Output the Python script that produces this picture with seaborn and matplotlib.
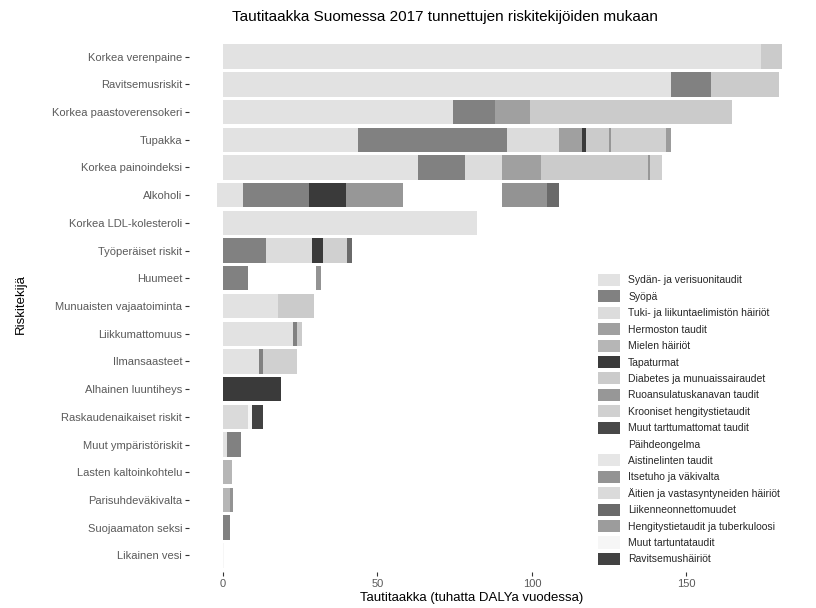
import numpy as np
import pandas as pd
import seaborn as sns
import matplotlib.pyplot as plt
from matplotlib.patches import Patch

# Riskitekijät ylhäältä alas
risks = [
    "Korkea verenpaine", "Ravitsemusriskit", "Korkea paastoverensokeri", "Tupakka",
    "Korkea painoindeksi", "Alkoholi", "Korkea LDL-kolesteroli", "Työperäiset riskit",
    "Huumeet", "Munuaisten vajaatoiminta", "Liikkumattomuus", "Ilmansaasteet",
    "Alhainen luuntiheys", "Raskaudenaikaiset riskit", "Muut ympäristöriskit",
    "Lasten kaltoinkohtelu", "Parisuhdeväkivalta", "Suojaamaton seksi", "Likainen vesi",
]

causes = [
    "Sydän- ja verisuonitaudit", "Syöpä", "Tuki- ja liikuntaelimistön häiriöt",
    "Hermoston taudit", "Mielen häiriöt", "Tapaturmat", "Diabetes ja munuaissairaudet",
    "Ruoansulatuskanavan taudit", "Krooniset hengitystietaudit", "Muut tarttumattomat taudit",
    "Päihdeongelma", "Aistinelinten taudit", "Itsetuho ja väkivalta",
    "Äitien ja vastasyntyneiden häiriöt", "Liikenneonnettomuudet",
    "Hengitystietaudit ja tuberkuloosi", "Muut tartuntataudit", "Ravitsemushäiriöt",
]

grays = [
    "#e2e2e2", "#818181", "#dcdcdc", "#a0a0a0", "#b6b6b6", "#3a3a3a", "#cbcbcb",
    "#979797", "#d0d0d0", "#484848", "#ffffff", "#e6e6e6", "#939393", "#dadada",
    "#6a6a6a", "#9c9c9c", "#f6f6f6", "#424242",
]

# tuhatta DALYa, riskitekijöiden järjestyksessä
#             verp   ravi  paas  tupa  pain  alko  ldl   tyo   huum  munu  liik  ilma  luu   rask  ymp   last  pari  seks  vesi
sydan      = [174.0, 145.0, 74.3, 43.6, 63.1, 6.6, 82.1, 0,    0,    17.9, 22.5, 11.7, 0,    0,    1.4,  0,    0,    0,    0]
syopa      = [0,     12.8, 13.9, 48.4, 15.2, 21.3, 0,    13.9, 8.0,  0,    1.3,  1.3,  0,    0,    4.4,  0,    0,    2.3,  0]
tuki       = [0,     0,    0,    16.8, 12.0, 0,    0,    14.8, 0,    0,    0,    0,    0,    0,    0,    0,    0,    0,    0]
hermosto   = [0,     0,    11.3, 7.4,  12.6, 0,    0,    0,    0,    0,    0,    0,    0,    0,    0,    0,    0,    0,    0]
mieli      = [0,     0,    0,    0,    0,    0,    0,    0,    0,    0,    0,    0,    0,    0,    0,    2.8,  2.2,  0,    0]
tapaturma  = [0,     0,    0,    1.3,  0,    11.8, 0,    3.8,  0,    0,    0,    0,    18.8, 0,    0,    0,    0,    0,    0]
diabetes   = [6.8,   22.3, 65.2, 7.4,  34.6, 0,    0,    0,    0,    11.7, 1.9,  0,    0,    0,    0,    0,    0,    0,    0]
ruoansul   = [0,     0,    0,    0.7,  0.7,  18.6, 0,    0,    0,    0,    0,    0,    0,    0,    0,    0,    0,    0,    0]
krooniset  = [0,     0,    0,    17.9, 3.8,  0,    0,    7.8,  0,    0,    0,    10.8, 0,    0,    0,    0,    0,    0,    0]
muut_tarttumattomat = [0] * 19
paihde     = [0,     0,    0,    0,    0,    32.1, 0,    0,    22.0, 0,    0,    0,    0,    0,    0,    0,    0,    0,    0]
aistin     = [0] * 19
itsetuho   = [0,     0,    0,    0,    0,    14.4, 0,    0,    1.6,  0,    0,    0,    0,    0,    0,    0,    1.1,  0,    0]
aitien     = [0,     0,    0,    0,    0,    0,    0,    0,    0,    0,    0,    0,    0,    8.2,  0,    0,    0,    0,    0]
liikenne   = [0,     0,    0,    0,    0,    4.0,  0,    1.4,  0,    0,    0,    0,    0,    0,    0,    0,    0,    0,    0]
hengitys   = [0,     0,    0,    1.6,  0,    0,    0,    0,    0,    0,    0,    0,    0,    0,    0,    0,    0,    0,    0]
muut_tartunta = [0,  0,    0,    0,    0,    0,    0,    0,    0,    0,    0,    0,    0,    1.1,  0,    0,    0,    0,    0.3]
ravitsemush = [0,    0,    0,    0,    0,    0,    0,    0,    0,    0,    0,    0,    0,    3.6,  0,    0,    0,    0,    0]

# alkoholin suojaava vaikutus (negatiivinen)
sydan_neg  = [0,     0,    0,    0,    0,    -1.9, 0,    0,    0,    0,    0,    0,    0,    0,    0,    0,    0,    0,    0]

series = [sydan, syopa, tuki, hermosto, mieli, tapaturma, diabetes, ruoansul, krooniset,
          muut_tarttumattomat, paihde, aistin, itsetuho, aitien, liikenne, hengitys,
          muut_tartunta, ravitsemush]

sns.set_theme(style="white")
plt.rcParams['font.family'] = ['Liberation Sans', 'DejaVu Sans']

fig = plt.figure(figsize=(8.16, 6.08), dpi=100)
ax = fig.add_axes([189 / 816, 1 - 572 / 608, (810 - 189) / 816, (572 - 40) / 608])

# pinotut palkit: piirretään kertymät takaperin, lyhyemmät päälle
cum = np.cumsum(np.array(series), axis=0)
for k in reversed(range(len(causes))):
    df = pd.DataFrame({"riski": risks, "arvo": cum[k]})
    sns.barplot(data=df, x="arvo", y="riski", order=risks, color=grays[k],
                saturation=1, width=0.88, errorbar=None, orient="h",
                linewidth=0, ax=ax)

df_neg = pd.DataFrame({"riski": risks, "arvo": sydan_neg})
sns.barplot(data=df_neg, x="arvo", y="riski", order=risks, color=grays[0],
            saturation=1, width=0.88, errorbar=None, orient="h", linewidth=0, ax=ax)

ax.set_xlim(-11, 190)
ax.set_ylim(len(risks) - 0.4, -0.6)
ax.set_xticks([0, 50, 100, 150])
ax.set_xlabel("")
ax.set_ylabel("")
sns.despine(ax=ax, left=True, bottom=True)
ax.tick_params(axis="both", bottom=True, left=True, length=3, width=0.8,
               color="#333333", labelcolor="#5a5a5a", labelsize=8, pad=2)

handles = [Patch(facecolor=c, edgecolor="none", label=l) for c, l in zip(grays, causes)]
ax.legend(handles=handles, loc="upper left", bbox_to_anchor=(598 / 816, 1 - 274 / 608),
          bbox_transform=fig.transFigure, frameon=False, fontsize=7.5,
          handlelength=2.1, handleheight=1.4, labelspacing=0.42, handletextpad=0.8,
          borderpad=0, borderaxespad=0)

fig.text(445 / 816, 1 - 17 / 608, "Tautitaakka Suomessa 2017 tunnettujen riskitekijöiden mukaan",
         ha="center", va="center", fontsize=11, color="black")
fig.text(472 / 816, 1 - 598 / 608, "Tautitaakka (tuhatta DALYa vuodessa)",
         ha="center", va="center", fontsize=9.5, color="black")
fig.text(21 / 816, 1 - 304 / 608, "Riskitekijä", ha="center", va="center",
         rotation=90, fontsize=9.5, color="black")

fig.savefig("out.png", dpi=100)
